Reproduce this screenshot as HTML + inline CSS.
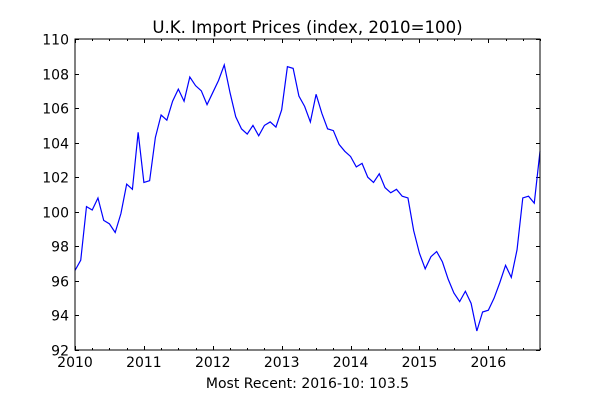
<!DOCTYPE html>
<html><head><meta charset="utf-8"><style>
html,body{margin:0;padding:0;background:#fff;}
svg text{font-family:"DejaVu Sans","Liberation Sans",sans-serif;}
</style></head><body>
<svg id="chart" width="600" height="400" xmlns="http://www.w3.org/2000/svg">
<rect width="600" height="400" fill="#fff"/>
<text x="307.5" y="33" text-anchor="middle" font-size="16.6">U.K. Import Prices (index, 2010=100)</text>
<text x="307.5" y="388" text-anchor="middle" font-size="14">Most Recent: 2016-10: 103.5</text>
<g id="ticks"></g>
<path id="line" fill="none" stroke="#0000ff" stroke-width="1.2"/>
<rect x="75" y="39" width="465" height="311" fill="none" stroke="#000" stroke-width="1"/>
</svg>
<script>
const startYear = 2010;
const values = [
96.6,97.2,100.3,100.1,100.8,99.5,99.3,98.8,99.9,101.6,101.3,104.6,
101.7,101.8,104.3,105.6,105.3,106.4,107.1,106.4,107.8,107.3,107.0,106.2,
106.9,107.6,108.5,106.9,105.5,104.8,104.5,105.0,104.4,105.0,105.2,104.9,
105.9,108.4,108.3,106.7,106.1,105.2,106.8,105.7,104.8,104.7,103.9,103.5,
103.2,102.6,102.8,102.0,101.7,102.2,101.4,101.1,101.3,100.9,100.8,98.9,
97.6,96.7,97.4,97.7,97.1,96.1,95.3,94.8,95.4,94.7,93.1,94.2,
94.3,95.0,95.9,96.9,96.2,97.8,100.8,100.9,100.5,103.5];
const yTicks = [92,94,96,98,100,102,104,106,108,110];
const xTickYears = [2010,2011,2012,2013,2014,2015,2016];
const L=75,R=540,T=39,B=350;
const nMonths = values.length-1;
const x = m => L + (R-L)*m/nMonths;
const y = v => B - (B-T)*(v-92)/(110-92);
const ns="http://www.w3.org/2000/svg";
const g=document.getElementById('ticks');
function line(x1,y1,x2,y2,name){const l=document.createElementNS(ns,'line');
l.setAttribute('x1',x1);l.setAttribute('y1',y1);l.setAttribute('x2',x2);l.setAttribute('y2',y2);
l.setAttribute('stroke','#000');l.setAttribute('stroke-width','1');


g.appendChild(l);}
function text(tx,ty,s,anchor,name){const t=document.createElementNS(ns,'text');
t.setAttribute('x',tx);t.setAttribute('y',ty);t.setAttribute('text-anchor',anchor);t.setAttribute('font-size','14');
t.textContent=s;


g.appendChild(t);}
yTicks.forEach(v=>{const yy=Math.round(y(v))+0.5;
line(L,yy,L+4,yy,'y-tick');line(R-4,yy,R,yy,'y-tick');
text(L-6,yy+5,String(v),'end','y-tick-label');});
for(let m=0;m<=nMonths;m+=3){const xx=Math.round(x(m))+0.5;const major=m%12===0;const len=major?4:2;
line(xx,B,xx,B-len,'x-tick');line(xx,T,xx,T+len,'x-tick');}
xTickYears.forEach(yr=>{const xx=x((yr-startYear)*12);text(xx,B+17,String(yr),'middle','x-tick-label');});
document.getElementById('line').setAttribute('d',values.map((v,i)=>(i?'L':'M')+x(i).toFixed(2)+','+y(v).toFixed(2)).join(''));
</script>
</body></html>
